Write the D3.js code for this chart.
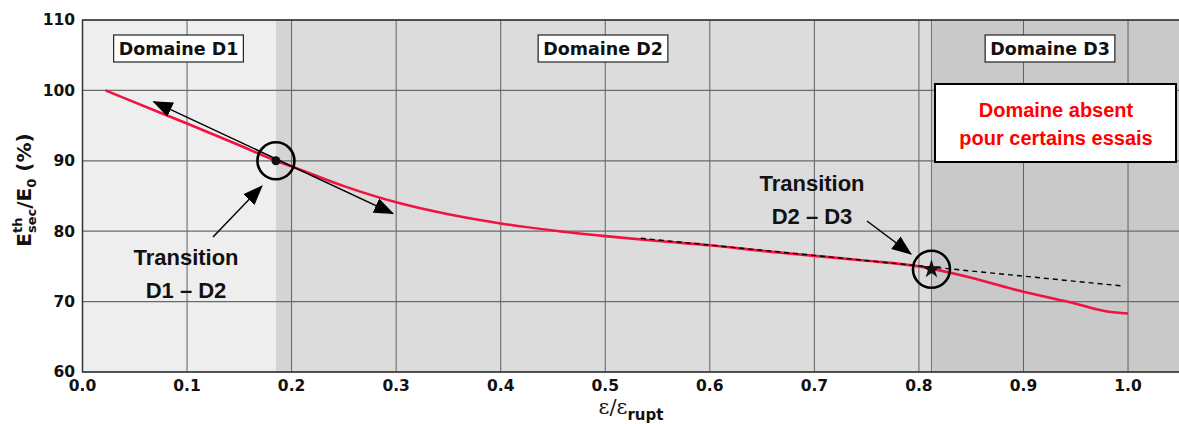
<!DOCTYPE html>
<html><head><meta charset="utf-8">
<script src="https://cdn.jsdelivr.net/npm/d3@7"></script>
<style>body{margin:0;background:#fff;} svg{display:block;}</style>
</head><body>
<svg id="c" width="1179" height="424"></svg>
<script>
// ---- data ----
const strainRatio = [0.022,0.05,0.1,0.15,0.185,0.2,0.25,0.3,0.35,0.4,0.45,0.5,0.55,0.6,0.65,0.7,0.75,0.8,0.83,0.85,0.9,0.95,0.98,1.0];
const modulusRatio = [100,98.3,95.3,92.2,90.0,89.2,86.4,84.1,82.4,81.1,80.1,79.3,78.6,78.0,77.2,76.5,75.8,75.0,74.1,73.4,71.4,69.7,68.6,68.3];
const xTicks = [0.0,0.1,0.2,0.3,0.4,0.5,0.6,0.7,0.8,0.9,1.0];
const yTicks = [60,70,80,90,100,110];
const domainNames = ["Domaine D1","Domaine D2","Domaine D3"];
const domainStart = [0.0, 0.2, 0.8125];
const domainEnd = [0.185, 0.8125, 1.05];
const transitionX = [0.185, 0.812];
const transitionY = [90.0, 74.6];
const tangentD1X = [0.068, 0.297];
const tangentD1Y = [98.4, 82.5];
const tangentD2X = [0.534, 0.996];
const tangentD2Y = [79.0, 72.2];
const noteLines = ["Domaine absent", "pour certains essais"];

// ---- layout ----
const svg = d3.select("#c");
const x = d3.scaleLinear().domain([0, 1.05]).range([82.5, 1180.3]);
const y = d3.scaleLinear().domain([60, 110]).range([372, 20]);
const L = 82.5, R = 1180.3, T = 20, B = 372;

const defs = svg.append("defs");
defs.append("marker").attr("id","ah").attr("markerUnits","userSpaceOnUse")
  .attr("markerWidth",20).attr("markerHeight",20).attr("viewBox","0 -8 18 16")
  .attr("refX",17).attr("refY",0).attr("orient","auto-start-reverse")
  .append("path").attr("d","M0,-7L18,0L0,7Z").attr("fill","#000");

// background shading
const shades = ["#eeeeee","#dcdcdc","#c9c9c9"];
domainStart.forEach((s,i)=>{
  svg.append("rect").attr("x",x(s)).attr("y",T).attr("width",x(domainEnd[i])-x(s)).attr("height",B-T).attr("fill",shades[i]);
});
// transition band D1-D2
svg.append("rect").attr("x",x(domainEnd[0])).attr("y",T).attr("width",x(domainStart[1])-x(domainEnd[0])).attr("height",B-T).attr("fill","#d4d4d4");

// grid
const grid = svg.append("g");
grid.selectAll("line.v").data(xTicks).join("line").attr("class","v")
  .attr("x1",d=>x(d)).attr("x2",d=>x(d)).attr("y1",T).attr("y2",B)
  .attr("stroke","#606060").attr("stroke-width",1);
grid.append("line").attr("x1",x(transitionX[1])).attr("x2",x(transitionX[1])).attr("y1",T).attr("y2",B)
  .attr("stroke","#707070").attr("stroke-width",1);
grid.selectAll("line.h").data(yTicks).join("line").attr("class","h")
  .attr("x1",L).attr("x2",R).attr("y1",d=>y(d)).attr("y2",d=>y(d))
  .attr("stroke","#6a6a6a").attr("stroke-width",1.2);

// spines
svg.append("path").attr("d",`M${R},${T}H${L}V${B}H${R}`).attr("fill","none").attr("stroke","#333").attr("stroke-width",1.5);

// axes tick labels
const tickFont = "'DejaVu Sans', sans-serif";
svg.append("g").selectAll("text").data(xTicks).join("text")
  .attr("x",d=>x(d)).attr("y",391).attr("text-anchor","middle")
  .attr("font-family",tickFont).attr("font-weight","bold").attr("font-size",15.5).attr("fill","#111")
  .text(d=>d3.format(".1f")(d));
svg.append("g").selectAll("text").data(yTicks).join("text")
  .attr("x",75).attr("y",d=>y(d)).attr("dy","0.35em").attr("text-anchor","end")
  .attr("font-family",tickFont).attr("font-weight","bold").attr("font-size",15.5).attr("fill","#111")
  .text(d=>d);

// x label
const xl = svg.append("text").attr("x",631).attr("y",414).attr("text-anchor","middle")
  .attr("font-family",tickFont).attr("font-weight","bold").attr("fill","#111");
xl.append("tspan").attr("font-size",21).attr("font-family","'DejaVu Serif', serif").attr("font-weight","normal").text("ε/ε");
xl.append("tspan").attr("font-size",15).attr("dy",6).text("rupt");

// y label
const yl = svg.append("text").attr("transform","translate(31,190) rotate(-90)").attr("text-anchor","middle")
  .attr("font-family",tickFont).attr("font-weight","bold").attr("font-size",20).attr("fill","#111");
yl.append("tspan").text("E");
const sup = yl.append("tspan").attr("font-size",13).attr("dy",-9).text("th");
const sub = yl.append("tspan").attr("font-size",13).attr("dy",14).text("sec");
yl.append("tspan").attr("dy",-5).text("/E");
yl.append("tspan").attr("font-size",13).attr("dy",5).text("0");
yl.append("tspan").attr("dy",-5).text(" (%)");
const thW = sup.node().getComputedTextLength();
sub.attr("dx",-thW);

// domain label boxes
const dl = svg.append("g");
[178.5, 603, 1050].forEach((cx,i)=>{
  const g = dl.append("g");
  const t = g.append("text").attr("x",cx).attr("y",55).attr("text-anchor","middle")
    .attr("font-family",tickFont).attr("font-weight","bold").attr("font-size",17.5).attr("fill","#111")
    .text(domainNames[i]);
  const bb = t.node().getBBox();
  g.insert("rect","text").attr("x",bb.x-5).attr("y",35).attr("width",bb.width+10).attr("height",27)
    .attr("fill","#fff").attr("stroke","#222").attr("stroke-width",1.2);
});

// curve
const pts = strainRatio.map((d,i)=>[d, modulusRatio[i]]);
svg.append("path").datum(pts)
  .attr("d", d3.line().x(d=>x(d[0])).y(d=>y(d[1])).curve(d3.curveMonotoneX))
  .attr("fill","none").attr("stroke","#f2123f").attr("stroke-width",2.6);

// tangent arrows / dashed line
svg.append("line").attr("x1",x(tangentD1X[0])).attr("y1",y(tangentD1Y[0])).attr("x2",x(tangentD1X[1])).attr("y2",y(tangentD1Y[1]))
  .attr("stroke","#000").attr("stroke-width",1.5).attr("marker-start","url(#ah)").attr("marker-end","url(#ah)");
svg.append("line").attr("x1",x(tangentD2X[0])).attr("y1",y(tangentD2Y[0])).attr("x2",x(tangentD2X[1])).attr("y2",y(tangentD2Y[1]))
  .attr("stroke","#000").attr("stroke-width",1.4).attr("stroke-dasharray","5,4");

// transition markers
svg.append("circle").attr("cx",x(transitionX[0])).attr("cy",y(transitionY[0])).attr("r",4.5).attr("fill","#111");
svg.append("path").attr("d",d3.symbol(d3.symbolStar,110)()).attr("transform",`translate(${x(transitionX[1])},${y(transitionY[1])})`).attr("fill","#111");
transitionX.forEach((tx,i)=>{
  svg.append("circle").attr("cx",x(tx)).attr("cy",y(transitionY[i])).attr("r",18.5)
    .attr("fill","none").attr("stroke","#000").attr("stroke-width",2.6);
});

// transition labels + arrows
const annFont = "'Liberation Sans', Arial, sans-serif";
function label(cx, cy, lines){
  lines.forEach((s,k)=>{
    svg.append("text").attr("x",cx).attr("y",cy + k*33).attr("text-anchor","middle")
      .attr("font-family",annFont).attr("font-weight","bold").attr("font-size",22).attr("fill","#111").text(s);
  });
}
label(186, 265, ["Transition","D1 – D2"]);
label(812, 191, ["Transition","D2 – D3"]);
svg.append("line").attr("x1",213).attr("y1",237).attr("x2",262).attr("y2",186)
  .attr("stroke","#000").attr("stroke-width",1.5).attr("marker-end","url(#ah)");
svg.append("line").attr("x1",867).attr("y1",221).attr("x2",911).attr("y2",254)
  .attr("stroke","#000").attr("stroke-width",1.5).attr("marker-end","url(#ah)");

// note box
svg.append("rect").attr("x",935).attr("y",84).attr("width",241).attr("height",78)
  .attr("fill","#fff").attr("stroke","#000").attr("stroke-width",2);
noteLines.forEach((s,k)=>{
  svg.append("text").attr("x",1056).attr("y",117 + k*28).attr("text-anchor","middle")
    .attr("font-family",annFont).attr("font-weight","bold").attr("font-size",20).attr("fill","#ff0000").text(s);
});
</script>
</body></html>
